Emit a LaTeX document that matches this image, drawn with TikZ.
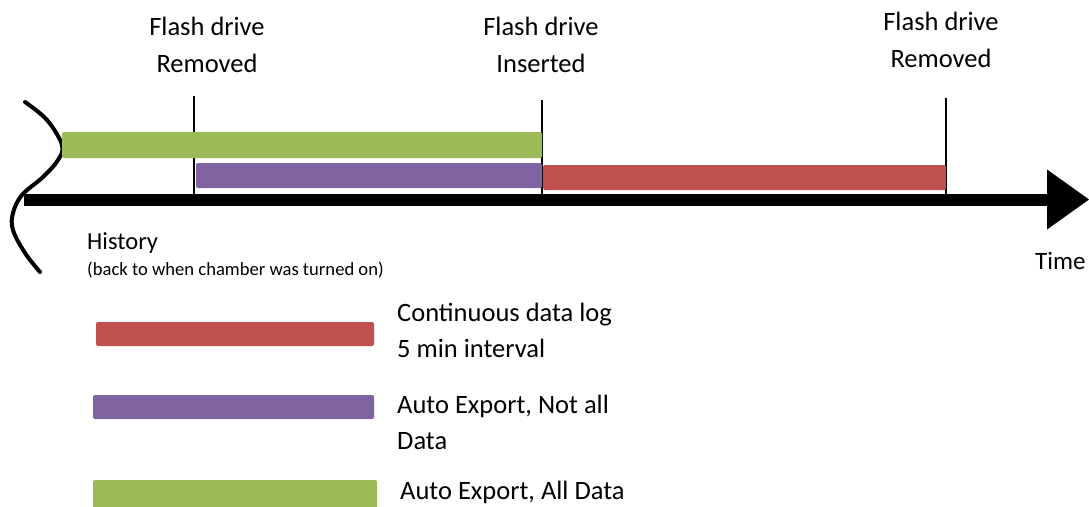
\documentclass[tikz,border=0pt]{standalone}
\usepackage{fontspec}
\setmainfont{Carlito}
\usetikzlibrary{arrows.meta}
\definecolor{logred}{HTML}{C0504D}
\definecolor{autopurple}{HTML}{8064A2}
\definecolor{autogreen}{HTML}{9BBB59}
\begin{document}
\begin{tikzpicture}[x=1pt,y=-1pt,
  bar/.style={rounded corners=2pt},
  marker/.style={line width=1.2pt},
  lbl/.style={font=\fontsize{26.5}{37}\selectfont,align=center},
  legtxt/.style={font=\fontsize{26.5}{36}\selectfont,align=left,anchor=west}]
\useasboundingbox (0,0) rectangle (1089,506);
% time axis
\coordinate (start) at (24,199.5);
\coordinate (tip) at (1089,199.5);
\draw[line width=12pt,-{Triangle[length=42pt,width=60pt,line width=0pt]}] (start) -- (tip);
% history break
\draw[line width=4pt,line cap=round] plot[smooth,tension=0.6] coordinates
  {(25,102) (47,120) (62,145) (58,160) (43,177) (22,195) (13,213) (13,230) (25,253) (40,272)};
% flash drive events
\foreach \x/\top/\name in {194/96/remA, 542/100/ins, 946/98/remB}
{
\coordinate (\name top) at (\x,\top);
\coordinate (\name) at (\x,199);
\draw[marker] (\name top) -- (\name);
}
\node[lbl] (remAlbl) at (207,45) {Flash drive\\Removed};
\node[lbl] (inslbl) at (541,45) {Flash drive\\Inserted};
\node[lbl] (remBlbl) at (941,40) {Flash drive\\Removed};
% bars above the axis
\fill[autogreen,bar] (62,132) rectangle (542,158);
\fill[autopurple,bar] (196,163) rectangle (542,188);
\fill[logred,bar] (543,165) rectangle (946,190);
\node[anchor=west,font=\fontsize{24.5}{28}\selectfont,inner sep=0pt] (hist) at (87,243) {History};
\node[anchor=west,font=\fontsize{18.6}{21}\selectfont,inner sep=0pt] (histnote) at (87,270) {(back to when chamber was turned on)};
\node[anchor=west,font=\fontsize{25}{28}\selectfont,inner sep=0pt] (time) at (1035,261) {Time};
% legend
\fill[logred,bar] (96,322) rectangle (374,346);
\fill[autopurple,bar] (93,395) rectangle (374,419);
\fill[autogreen,bar] (93,480) rectangle (377,512);
\node[legtxt,inner sep=0pt] (leglog) at (397,330) {Continuous data log\\5 min interval};
\node[legtxt,inner sep=0pt] (legpart) at (397,422) {Auto Export, Not all\\Data};
\node[legtxt,inner sep=0pt] (legall) at (400,492) {Auto Export, All Data};
\end{tikzpicture}
\end{document}
